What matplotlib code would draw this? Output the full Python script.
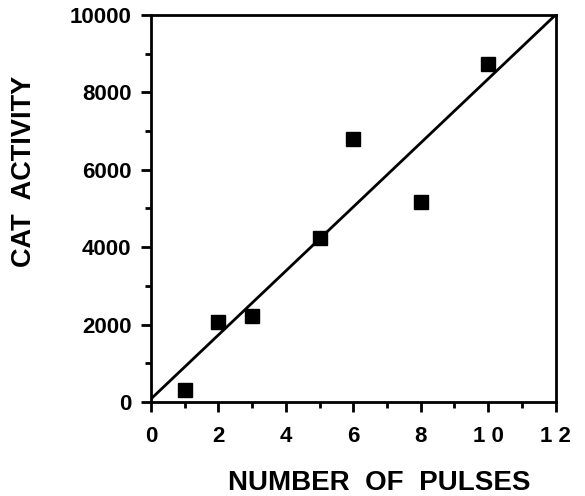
import matplotlib
matplotlib.use("Agg")
import matplotlib.pyplot as plt
from matplotlib.ticker import MultipleLocator

pulses = [1, 2, 3, 5, 6, 8, 10]
cat_activity = [300, 2080, 2220, 4230, 6800, 5180, 8730]
fit_x = [0, 12]
fit_y = [80, 10000]
x_ticks = [0, 2, 4, 6, 8, 10, 12]
x_ticklabels = ["0", "2", "4", "6", "8", "1 0", "1 2"]
y_ticks = [0, 2000, 4000, 6000, 8000, 10000]
y_ticklabels = ["0", "2000", "4000", "6000", "8000", "10000"]

plt.rcParams['font.family'] = ['Liberation Sans', 'DejaVu Sans']
fig = plt.figure(figsize=(5.85, 4.96), dpi=100)
ax = fig.add_axes([151/585, 1 - 402/496, (555.5 - 151)/585, (402 - 15)/496])

ax.plot(fit_x, fit_y, color='black', lw=2.0, solid_capstyle='butt')
ax.plot(pulses, cat_activity, 's', color='black', markersize=10)

ax.set_xlim(0, 12)
ax.set_ylim(0, 10000)
ax.set_xticks(x_ticks)
ax.set_xticklabels(x_ticklabels)
ax.set_yticks(y_ticks)
ax.set_yticklabels(y_ticklabels)
ax.xaxis.set_minor_locator(MultipleLocator(1))
ax.yaxis.set_minor_locator(MultipleLocator(1000))
ax.tick_params(which='major', direction='out', length=7, width=2, labelsize=16)
ax.tick_params(axis='y', which='major', pad=7)
ax.tick_params(axis='x', which='major', pad=10)
ax.tick_params(which='minor', direction='out', length=4, width=2)
for lab in ax.get_xticklabels() + ax.get_yticklabels():
    lab.set_fontweight('bold')
for s in ax.spines.values():
    s.set_linewidth(2)

fig.text(379/585, 1 - 483/496, "NUMBER  OF  PULSES", ha='center', va='center',
         fontsize=20, fontweight='bold')
fig.text(24/585, 1 - 171/496, "CAT  ACTIVITY", ha='center', va='center',
         rotation=90, fontsize=19.5, fontweight='bold')

fig.savefig("out.png", dpi=100)
